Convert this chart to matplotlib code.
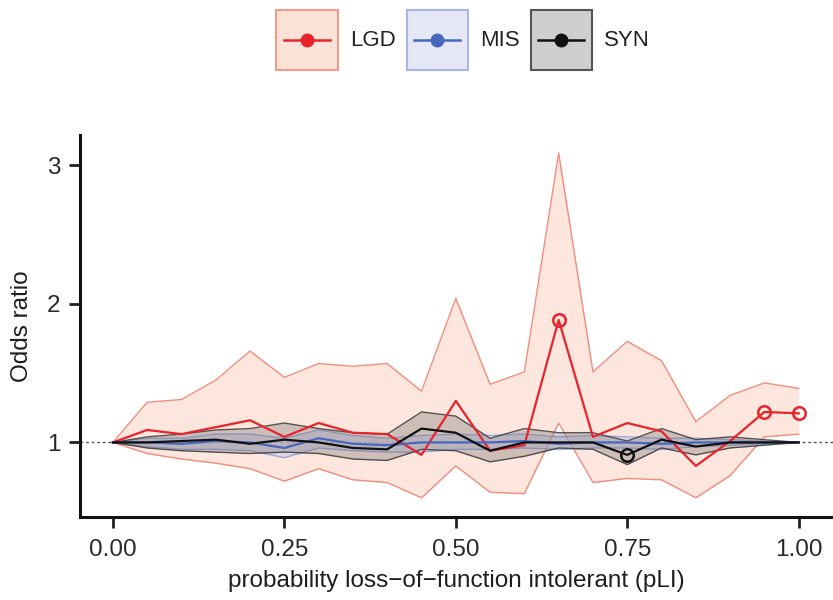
import matplotlib
matplotlib.use("Agg")
import matplotlib.pyplot as plt
from matplotlib.patches import Rectangle
from matplotlib.lines import Line2D
from matplotlib.legend_handler import HandlerBase

plt.rcParams['font.family'] = ['Liberation Sans', 'DejaVu Sans']

pli = [0.00, 0.05, 0.10, 0.15, 0.20, 0.25, 0.30, 0.35, 0.40, 0.45, 0.50,
       0.55, 0.60, 0.65, 0.70, 0.75, 0.80, 0.85, 0.90, 0.95, 1.00]

lgd_or = [1.00, 1.09, 1.06, 1.11, 1.16, 1.04, 1.14, 1.07, 1.06, 0.91, 1.30,
          0.94, 0.98, 1.885, 1.04, 1.14, 1.08, 0.83, 1.01, 1.22, 1.21]
lgd_hi = [1.00, 1.29, 1.31, 1.45, 1.66, 1.47, 1.57, 1.55, 1.57, 1.37, 2.04,
          1.42, 1.51, 3.09, 1.51, 1.73, 1.59, 1.15, 1.34, 1.43, 1.39]
lgd_lo = [1.00, 0.92, 0.88, 0.85, 0.81, 0.72, 0.81, 0.73, 0.71, 0.60, 0.83,
          0.64, 0.63, 1.14, 0.71, 0.74, 0.73, 0.60, 0.76, 1.04, 1.06]

mis_or = [1.00, 1.00, 0.99, 1.01, 1.00, 0.96, 1.03, 0.99, 0.98, 1.00, 1.00,
          1.00, 1.01, 0.99, 1.00, 1.00, 0.99, 1.00, 1.00, 1.00, 1.00]
mis_hi = [1.00, 1.03, 1.03, 1.06, 1.06, 1.03, 1.09, 1.05, 1.03, 1.05, 1.06,
          1.05, 1.06, 1.04, 1.05, 1.04, 1.03, 1.03, 1.02, 1.01, 1.00]
mis_lo = [1.00, 0.97, 0.95, 0.95, 0.94, 0.89, 0.96, 0.94, 0.93, 0.93, 0.95,
          0.95, 0.96, 0.95, 0.96, 0.96, 0.95, 0.97, 0.98, 0.99, 1.00]

syn_or = [1.00, 1.00, 1.01, 1.02, 0.99, 1.02, 1.00, 0.96, 0.95, 1.10, 1.07,
          0.94, 1.00, 1.00, 1.00, 0.91, 1.02, 0.97, 1.00, 1.00, 1.00]
syn_hi = [1.00, 1.04, 1.06, 1.09, 1.10, 1.14, 1.10, 1.07, 1.06, 1.22, 1.19,
          1.03, 1.10, 1.07, 1.07, 1.01, 1.10, 1.02, 1.04, 1.02, 1.00]
syn_lo = [1.00, 0.96, 0.94, 0.93, 0.92, 0.93, 0.92, 0.88, 0.87, 0.95, 0.94,
          0.86, 0.90, 0.96, 0.95, 0.84, 0.96, 0.91, 0.96, 0.98, 1.00]

lgd_sig = [0.65, 0.95, 1.00]
syn_sig = [0.75]

series = ["LGD", "MIS", "SYN"]
line_cols = ["#e8232b", "#4767bf", "#111111"]
fill_cols = ["#fbd3c2", "#c5c8ec", "#6f6a6a"]
fill_alpha = [0.55, 0.5, 0.32]
edge_cols = ["#f07a68", "#8f9ed8", "#3a3a3a"]
leg_fill = ["#fde3d7", "#e6e7f6", "#cfcfcf"]
leg_edge = ["#f39a8a", "#a9b5e5", "#555555"]


class LegendKey:
    def __init__(self, fc, ec, lc):
        self.fc, self.ec, self.lc = fc, ec, lc


class BoxLineHandler(HandlerBase):
    def create_artists(self, legend, orig_handle, xdescent, ydescent,
                       width, height, fontsize, trans):
        x0, y0 = -xdescent, -ydescent
        rect = Rectangle((x0, y0), width, height, facecolor=orig_handle.fc,
                         edgecolor=orig_handle.ec, lw=1.5, transform=trans)
        yc = y0 + height / 2
        pad = width * 0.12
        line = Line2D([x0 + pad, x0 + width - pad], [yc, yc], color=orig_handle.lc,
                      lw=1.8, transform=trans)
        dot = Line2D([x0 + width / 2], [yc], ls="none", marker="o", ms=9,
                     color=orig_handle.lc, transform=trans)
        return [rect, line, dot]


fig = plt.figure(figsize=(8.33, 6.0), dpi=100)
ax = fig.add_axes([0.096, 0.138, 0.904, 0.637])

data = [(lgd_or, lgd_lo, lgd_hi), (mis_or, mis_lo, mis_hi), (syn_or, syn_lo, syn_hi)]

ax.axhline(1.0, color="#555555", lw=1.0, ls=(0, (2, 2)), zorder=1)

for i, (orv, lo, hi) in enumerate(data):
    ax.fill_between(pli, lo, hi, color=fill_cols[i], alpha=fill_alpha[i], lw=0, zorder=2 + i)
    ax.plot(pli, lo, color=edge_cols[i], lw=1.0, alpha=0.85, zorder=2 + i)
    ax.plot(pli, hi, color=edge_cols[i], lw=1.0, alpha=0.85, zorder=2 + i)

for i, (orv, lo, hi) in enumerate(data):
    ax.plot(pli, orv, color=line_cols[i], lw=1.6, zorder=6 + i)

lgd_sig_y = [lgd_or[pli.index(x)] for x in lgd_sig]
syn_sig_y = [syn_or[pli.index(x)] for x in syn_sig]
ax.plot(lgd_sig, lgd_sig_y, ls="none", marker="o", ms=9, mfc="none",
        mec=line_cols[0], mew=1.8, zorder=10)
ax.plot(syn_sig, syn_sig_y, ls="none", marker="o", ms=9, mfc="none",
        mec=line_cols[2], mew=1.8, zorder=10)

ax.set_xlim(-0.048, 1.05)
ax.set_ylim(0.46, 3.22)
ax.set_xticks([0.00, 0.25, 0.50, 0.75, 1.00])
ax.set_xticklabels(["0.00", "0.25", "0.50", "0.75", "1.00"])
ax.set_yticks([1, 2, 3])
ax.set_yticklabels(["1", "2", "3"])

for s in ["top", "right"]:
    ax.spines[s].set_visible(False)
for s in ["left", "bottom"]:
    ax.spines[s].set_linewidth(2.2)
    ax.spines[s].set_color("#111111")
ax.tick_params(axis="both", length=8, width=2, color="#222222",
               labelsize=17.5, labelcolor="#2a2a2a", pad=6)
ax.tick_params(axis="x", pad=8)

ax.set_xlabel("probability loss\u2212of\u2212function intolerant (pLI)", fontsize=17.5,
              color="#1e1e1e", labelpad=6)
ax.set_ylabel("Odds ratio", fontsize=17.5, color="#1e1e1e", labelpad=10)

handles = [LegendKey(leg_fill[i], leg_edge[i], line_cols[i]) for i in range(3)]

fig.legend(handles, series, loc="center", bbox_to_anchor=(0.556, 0.933), ncol=3,
           frameon=False, fontsize=16, handlelength=2.75, handleheight=3.8,
           handletextpad=0.55, columnspacing=0.5, labelcolor="#222222",
           handler_map={LegendKey: BoxLineHandler()})

fig.savefig("out.png", dpi=100)
